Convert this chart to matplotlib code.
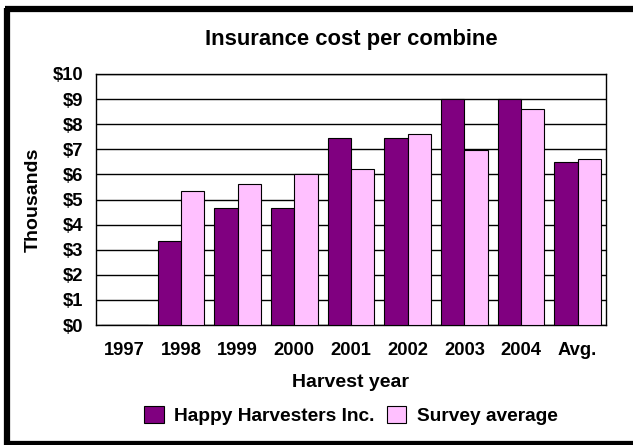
import numpy as np
import matplotlib.pyplot as plt
from matplotlib.lines import Line2D

plt.rcParams['font.family'] = ['Liberation Sans', 'DejaVu Sans']
plt.rcParams['font.weight'] = 'bold'

years = ['1997', '1998', '1999', '2000', '2001', '2002', '2003', '2004', 'Avg.']
happy = [0, 3.33, 4.67, 4.67, 7.44, 7.44, 9.0, 9.0, 6.49]
survey = [0, 5.35, 5.61, 6.01, 6.2, 7.6, 6.97, 8.6, 6.62]
yticks = [0, 1, 2, 3, 4, 5, 6, 7, 8, 9, 10]

W, H = 633, 445
fig = plt.figure(figsize=(W / 100, H / 100), dpi=100)
ax = fig.add_axes([96 / W, 1 - 325 / H, 510 / W, 251 / H])

x = np.arange(len(years))
bw = 0.41
ax.bar(x - bw / 2, happy, bw, color='#800080', edgecolor='black', linewidth=0.8,
       label='Happy Harvesters Inc.', zorder=3)
ax.bar(x + bw / 2, survey, bw, color='#ffc0ff', edgecolor='black', linewidth=0.8,
       label='Survey average', zorder=3)

ax.set_xlim(-0.5, len(years) - 0.5)
ax.set_ylim(0, 10)
ax.set_yticks(yticks)
ax.set_yticklabels(['$' + str(v) for v in yticks])
ax.set_xticks(x)
ax.set_xticklabels(years)
ax.tick_params(length=0, labelsize=13.2)
ax.tick_params(axis='y', pad=9)
ax.tick_params(axis='x', pad=12)
ax.yaxis.grid(True, color='black', linewidth=1)
for s in ax.spines.values():
    s.set_color('black')
    s.set_linewidth(1)

ax.set_title('Insurance cost per combine', fontsize=15.8, fontweight='bold', pad=21)
ax.set_xlabel('Harvest year', fontsize=14, fontweight='bold', labelpad=11)
ax.set_ylabel('Thousands', fontsize=14, fontweight='bold', labelpad=8)

ax.legend(loc='upper center', bbox_to_anchor=(0.5, -0.27), ncol=2, frameon=False,
          fontsize=13.8, handlelength=1.0, handleheight=1.0, columnspacing=0.65,
          handletextpad=0.55, borderpad=0.2)

# outer frame: left, top and bottom edges
for xs, ys in [([7.5, 7.5], [0, 437]), ([4.5, 640], [436.5, 436.5]), ([4.5, 640], [1.5, 1.5])]:
    fig.add_artist(Line2D([v / W for v in xs], [v / H for v in ys], transform=fig.transFigure,
                          color='black', linewidth=4.5, solid_capstyle='butt'))

fig.savefig('out.png', dpi=100, facecolor='white')
